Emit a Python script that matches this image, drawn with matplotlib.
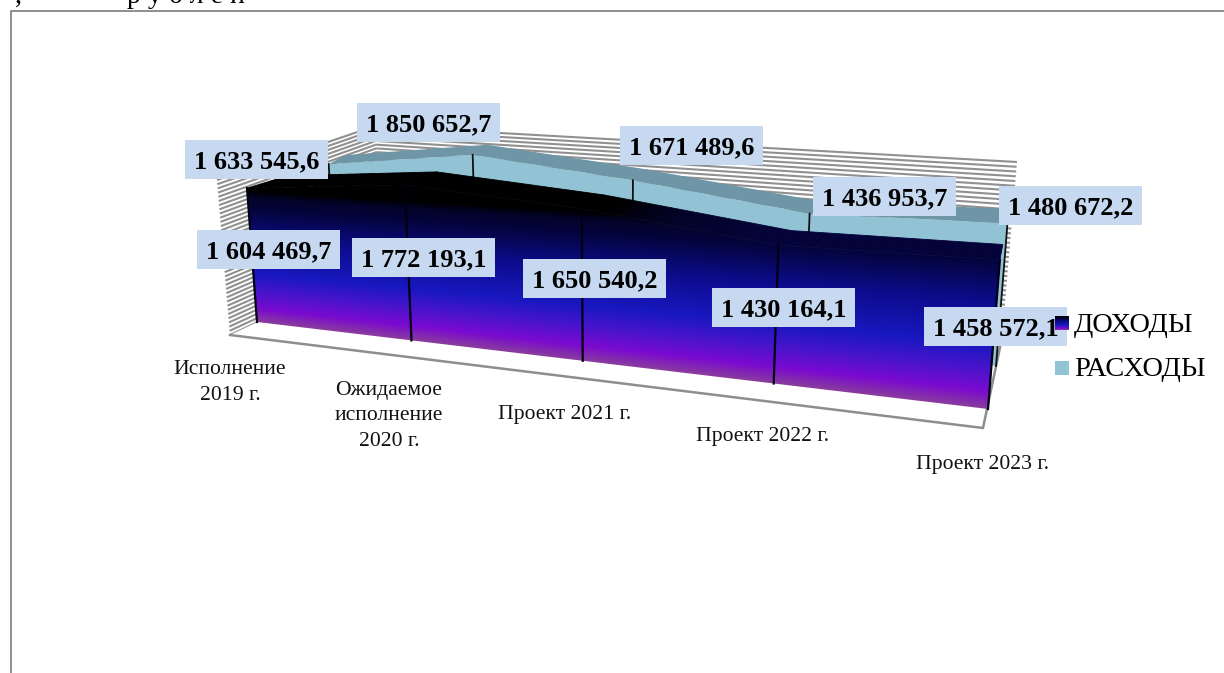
import numpy as np
import matplotlib
matplotlib.use("Agg")
import matplotlib.pyplot as plt
from matplotlib.colors import LinearSegmentedColormap
from matplotlib.patches import Polygon, Rectangle
from matplotlib.collections import LineCollection

plt.rcParams['font.family'] = ['Liberation Serif', 'DejaVu Sans']

categories = ["Исполнение\n2019 г.", "Ожидаемое\nисполнение\n2020 г.",
              "Проект 2021 г.", "Проект 2022 г.", "Проект 2023 г."]
income = [1604469.7, 1772193.1, 1650540.2, 1430164.1, 1458572.1]
expenses = [1633545.6, 1850652.7, 1671489.6, 1436953.7, 1480672.2]
series_names = ["ДОХОДЫ", "РАСХОДЫ"]

W, H = 1224, 673
VMAX = 2000000.0
N_CAT = len(categories) - 1
TILT = 0.07


def homography(bl, br, tl, tr):
    src = [(0, 0), (1, 0), (0, 1), (1, 1)]
    dst = [bl, br, tl, tr]
    A, b = [], []
    for (s, t), (x, y) in zip(src, dst):
        A.append([s, t, 1, 0, 0, 0, -s * x, -t * x])
        A.append([0, 0, 0, s, t, 1, -s * y, -t * y])
        b += [x, y]
    h = np.linalg.solve(np.array(A, float), np.array(b, float))
    return np.append(h, 1).reshape(3, 3)


def project(M, i, value):
    p = M @ np.array([i / N_CAT, value / VMAX, 1.0])
    return p[0] / p[2], p[1] / p[2]


# the four depth planes of the two area series (screen layout of the 3-D box)
inc_front = homography((257, 322), (988, 409), (244.5, 154), (1004.5, 202))
inc_back = homography((296, 308), (991, 393), (285.4, 142), (1007.4, 187))
exp_front = homography((336, 294), (996, 366), (327, 134), (1011.7, 171))
exp_back = homography((353, 285), (999, 351), (344, 125), (1014, 157))

fig = plt.figure(figsize=(W / 100, H / 100), dpi=100)
ax = fig.add_axes([0, 0, 1, 1])
ax.set_xlim(0, W)
ax.set_ylim(H, 0)
ax.axis('off')

GRAY = '#8e8e8e'
# chart frame
ax.plot([10.5, 10.5, W], [H, 10.5, 10.5], color=GRAY, lw=1.4, zorder=1)
ax.text(15, 3, ",", fontsize=20, ha='left', va='baseline', zorder=1)
ax.text(127, 3, "р у б л е й", fontsize=20, ha='left', va='baseline', zorder=1)

# walls
FLB, FLT, BLT, BLB = (230, 335), (217, 180), (375, 126), (382, 264)
BRT, BRB, FRB = (1017, 162), (1002, 338), (983, 428)


def stripes(a, b, c, d, n=38):
    segs = []
    for f in np.linspace(0, 1, n):
        p = np.array(a) + (np.array(b) - np.array(a)) * f
        q = np.array(c) + (np.array(d) - np.array(c)) * f
        segs.append([p, q])
    return LineCollection(segs, colors='#909090', linewidths=1.5, zorder=2)


ax.add_collection(stripes(FLB, FLT, BLB, BLT))
ax.add_collection(stripes(BLB, BLT, BRB, BRT))
ax.add_patch(Polygon([FLB, FRB, BRB, BLB], closed=True, fc='white', ec='none', zorder=3))
ax.plot(*zip(FLB, FRB, BRB), color=GRAY, lw=1.8, zorder=3)

# expenses area
TEAL, TEAL_TOP = '#92C3D5', '#6F96A6'
n = len(expenses)
front = [project(exp_front, i, v) for i, v in enumerate(expenses)]
back = [project(exp_back, i, v) for i, v in enumerate(expenses)]
base = [project(exp_front, 0, 0), project(exp_front, N_CAT, 0)]
ax.add_patch(Polygon(front + base[::-1], closed=True, fc=TEAL, ec='none', zorder=4))
ax.add_patch(Polygon(front + back[::-1], closed=True, fc=TEAL_TOP, ec='none', zorder=4))
for i, v in enumerate(expenses):
    ax.plot(*zip(project(exp_front, i, v), project(exp_front, i, 0)), color='#101010', lw=1.3, zorder=5)

# income area
cmap = LinearSegmentedColormap.from_list('inc', [
    (0.00, '#8A3C9C'), (0.10, '#7A0AD0'), (0.22, '#4A14CC'), (0.36, '#1818C0'),
    (0.60, '#0C0C8C'), (0.82, '#04043C'), (0.90, '#03032A'), (0.95, '#000000'), (1.00, '#000000')])
ivmax = max(income)
front = [project(inc_front, i, v) for i, v in enumerate(income)]
back = [project(inc_back, i, v) for i, v in enumerate(income)]
base = [project(inc_front, 0, 0), project(inc_front, N_CAT, 0)]
xx, yy = np.meshgrid(np.arange(W) + 0.5, np.arange(H) + 0.5)
Minv = np.linalg.inv(inc_front)
den = Minv[2, 0] * xx + Minv[2, 1] * yy + Minv[2, 2]
ss = (Minv[0, 0] * xx + Minv[0, 1] * yy + Minv[0, 2]) / den
vv = (Minv[1, 0] * xx + Minv[1, 1] * yy + Minv[1, 2]) / den * VMAX
shade = vv / ivmax * (1 + TILT * (1 - np.clip(ss, 0, 1)))
im = ax.imshow(np.clip(shade, 0, 1), cmap=cmap, vmin=0, vmax=1,
               extent=(0, W, H, 0), aspect='auto', zorder=6, interpolation='bilinear')
clip = Polygon(base + front[::-1], closed=True, transform=ax.transData)
im.set_clip_path(clip)
SUB = 14
for i in range(n - 1):
    for j in range(SUB):
        a, b = j / SUB, (j + 1) / SUB
        fa = np.array(front[i]) * (1 - a) + np.array(front[i + 1]) * a
        fb = np.array(front[i]) * (1 - b) + np.array(front[i + 1]) * b
        ba = np.array(back[i]) * (1 - a) + np.array(back[i + 1]) * a
        bb = np.array(back[i]) * (1 - b) + np.array(back[i + 1]) * b
        m = (j + 0.5) / SUB
        val = income[i] * (1 - m) + income[i + 1] * m
        pos = (i + m) / N_CAT
        c = cmap(float(min(val / ivmax * (1 + TILT * (1 - pos)), 0.999)))
        ax.add_patch(Polygon([fa, fb, bb, ba], closed=True, fc=c, ec=c, lw=0.6, zorder=6))
for i, v in enumerate(income):
    ax.plot(*zip(project(inc_front, i, v), project(inc_front, i, 0)), color='#000010', lw=1.6, zorder=7)

# category labels
cat_pos = [(230, 383), (389, 416), (565, 414), (762, 437), (983, 465)]
for (x, y), t in zip(cat_pos, categories):
    ax.text(x, y, t, fontsize=15.6, ha='center', va='center', linespacing=1.5, color='#111111', zorder=8)


# data labels
def fmt(v):
    return f"{v:,.1f}".replace(',', ' ').replace('.', ',')


BOX = '#C6D9F1'
exp_lab = [(185, 140), (357, 103), (620, 126), (813, 177), (999, 186)]
inc_lab = [(197, 230), (352, 238), (523, 259), (712, 288), (924, 307)]
for pos, vals in ((exp_lab, expenses), (inc_lab, income)):
    for (x, y), v in zip(pos, vals):
        ax.add_patch(Rectangle((x, y), 143, 39, fc=BOX, ec='none', zorder=9))
        ax.text(x + 71.5, y + 21.5, fmt(v), fontsize=19, fontweight='bold', ha='center',
                va='center', color='black', zorder=10)

# legend
swatch = np.linspace(1, 0, 64).reshape(-1, 1)
ax.imshow(swatch, cmap=cmap, vmin=0, vmax=1, extent=(1055, 1069, 330, 316), aspect='auto', zorder=11)
ax.add_patch(Rectangle((1055, 361), 14, 14, fc=TEAL, ec='none', zorder=11))
ax.text(1074, 325, series_names[0], fontsize=20.4, ha='left', va='center', zorder=11)
ax.text(1074, 370, series_names[1], fontsize=20.4, ha='left', va='center', zorder=11)
ax.set_xlim(0, W)
ax.set_ylim(H, 0)

fig.savefig('out.png', dpi=100)
